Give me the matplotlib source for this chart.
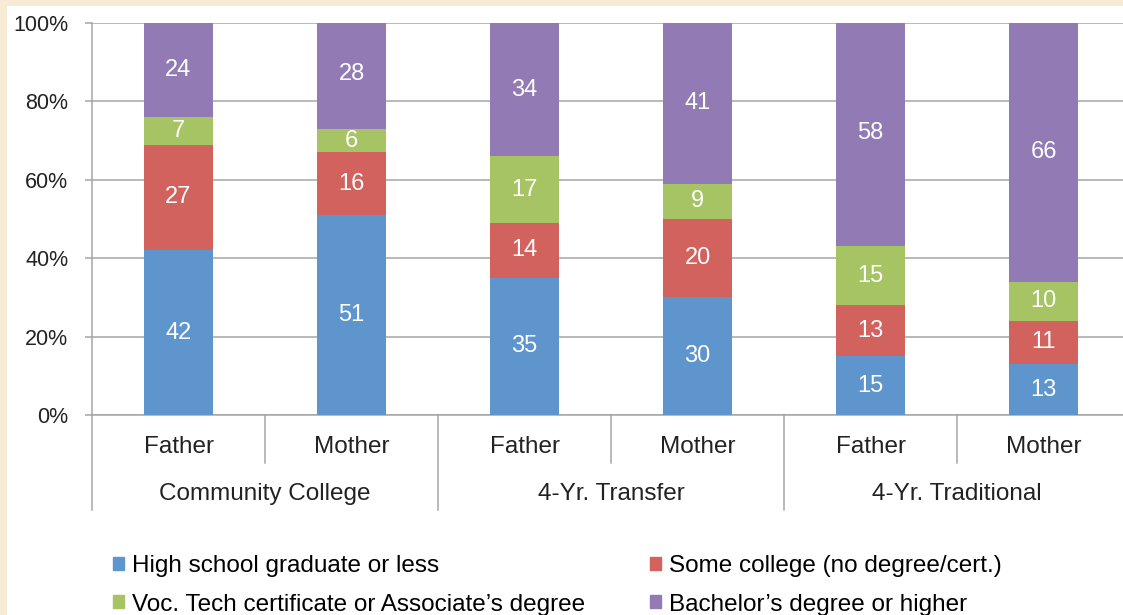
import numpy as np
import matplotlib.pyplot as plt
from matplotlib.patches import Rectangle

plt.rcParams['font.family'] = ['Liberation Sans', 'DejaVu Sans']

groups = ["Community College", "4-Yr. Transfer", "4-Yr. Traditional"]
parents = ["Father", "Mother", "Father", "Mother", "Father", "Mother"]
series = ["High school graduate or less", "Some college (no degree/cert.)",
          "Voc. Tech certificate or Associate\u2019s degree", "Bachelor\u2019s degree or higher"]
high_school = [42, 51, 35, 30, 15, 13]
some_college = [27, 16, 14, 20, 13, 11]
voc_tech = [7, 6, 17, 9, 15, 10]
bachelor = [24, 28, 34, 41, 58, 66]
colors = ["#5E95CC", "#D1625D", "#A7C464", "#927AB4"]

fig = plt.figure(figsize=(11.23, 6.15), dpi=100)
fig.patch.set_facecolor("#F7EBD5")
fig.patches.append(Rectangle((7 / 1123, 0), 1, 1 - 6 / 615, transform=fig.transFigure,
                             facecolor="white", edgecolor="none", zorder=-10))

ax = fig.add_axes([92 / 1123, 1 - 415 / 615, 1038 / 1123, 392 / 615])
ax.set_facecolor("none")
x = np.arange(len(parents))
bottom = np.zeros(len(parents))
for vals, col in zip([high_school, some_college, voc_tech, bachelor], colors):
    vals = np.array(vals)
    ax.bar(x, vals, 0.4, bottom=bottom, color=col, zorder=3)
    for xi, b, v in zip(x, bottom, vals):
        ax.text(xi, b + v / 2, str(v), ha="center", va="center", color="white",
                fontsize=17, zorder=4)
    bottom += vals

ax.set_xlim(-0.5, 5.5)
ax.set_ylim(0, 100)
ax.set_yticks(range(0, 101, 20))
ax.set_yticklabels([f"{v}%" for v in range(0, 101, 20)], fontsize=15.5, color="#222222")
ax.yaxis.grid(True, color="#A6A6A6", linewidth=1.1, zorder=0)
ax.tick_params(axis="y", length=5, width=1.1, color="#A6A6A6", pad=12)
ax.set_xticks([])
for s in ["top", "right"]:
    ax.spines[s].set_visible(False)
for s in ["left", "bottom"]:
    ax.spines[s].set_color("#A6A6A6")
    ax.spines[s].set_linewidth(1.1)

tr = ax.get_xaxis_transform()
for xi, p in zip(x, parents):
    ax.text(xi, -0.082, p, transform=tr, ha="center", va="center", fontsize=17.5, color="#222222")
for gi, g in enumerate(groups):
    ax.text(2 * gi + 0.5, -0.2015, g, transform=tr, ha="center", va="center",
            fontsize=17.5, color="#222222")
for xs in [0.5, 2.5, 4.5]:
    ax.plot([xs, xs], [0, -0.122], transform=tr, color="#A6A6A6", lw=1.1, clip_on=False)
for xs in [-0.5, 1.5, 3.5, 5.5]:
    ax.plot([xs, xs], [0, -0.242], transform=tr, color="#A6A6A6", lw=1.1, clip_on=False)

handles = [Rectangle((0, 0), 1, 1, color=c) for c in colors]
order = [0, 2, 1, 3]
fig.legend([handles[i] for i in order], [series[i] for i in order], ncol=2,
           loc="upper left", bbox_to_anchor=(96 / 1123, 1 - 538 / 615), frameon=False,
           fontsize=17.5, handlelength=0.45, handleheight=0.45, handletextpad=0.35,
           columnspacing=2.65, labelspacing=0.68, borderpad=0.2)

fig.savefig("out.png", dpi=100, facecolor=fig.get_facecolor())
